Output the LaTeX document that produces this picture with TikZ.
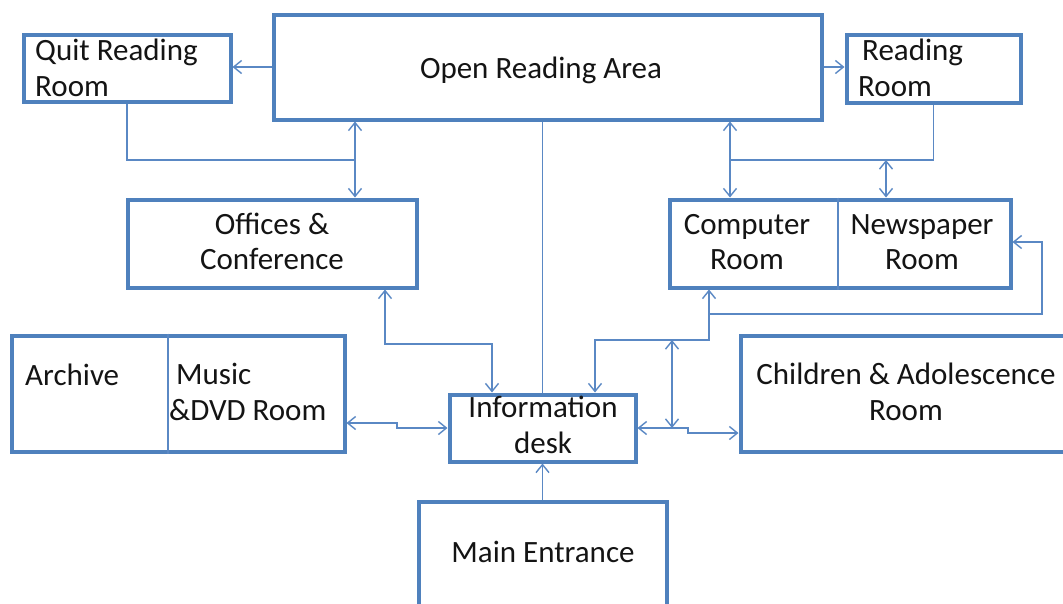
\documentclass[tikz,border=0pt]{standalone}
\usepackage{fontspec}
\setmainfont{Carlito}
\usetikzlibrary{arrows.meta}
\definecolor{boxblue}{HTML}{4F81BD}
\definecolor{linkblue}{HTML}{5A88C4}
\definecolor{ink}{HTML}{141414}
\begin{document}
\begin{tikzpicture}[x=1pt,y=-1pt,
  >={Straight Barb[length=8pt,width=13pt]},
  room/.style={draw=boxblue, line width=4pt, fill=white, inner sep=0pt},
  roomtext/.style={text=ink, inner sep=0pt, font=\fontsize{31}{35.5}\selectfont},
  link/.style={draw=linkblue, line width=1.4pt}]
\useasboundingbox (0,0) rectangle (1063,603);
\clip (0,0) rectangle (1063,603);
\fill[white] (0,0) rectangle (1063,603);

% rooms
\node[room, minimum width=207pt, minimum height=67pt]  (quit)    at (127,68) {};
\node[room, minimum width=548pt, minimum height=105pt] (open)    at (547.5,67) {};
\node[room, minimum width=174pt, minimum height=68pt]  (reading) at (933.5,68.5) {};
\node[room, minimum width=289pt, minimum height=88pt]  (offices) at (272,243.5) {};
\node[room, minimum width=341pt, minimum height=88pt]  (comp)    at (840,243.5) {};
\node[room, minimum width=333pt, minimum height=116pt] (arch)    at (178,393.5) {};
\node[room, minimum width=186pt, minimum height=67pt]  (info)    at (542.5,428) {};
\node[room, minimum width=330pt, minimum height=116pt] (child)   at (905.5,393.5) {};
\node[room, minimum width=248pt, minimum height=112pt] (main)    at (542.5,557.5) {};

% partitions inside the shared rooms
\coordinate (compdiv) at (838,0);
\coordinate (archdiv) at (168,0);
\draw[link] (comp.north -| compdiv) -- (comp.south -| compdiv);
\draw[link] (arch.north -| archdiv) -- (arch.south -| archdiv);

% junction points of the corridors
\coordinate (jl) at (355,160);
\coordinate (jr) at (730,160);
\coordinate (jn) at (886,160);
\coordinate (oc) at (385,344);
\coordinate (od) at (492,344);
\coordinate (cb) at (709,340);
\coordinate (cd) at (595,340);
\coordinate (cr) at (709,314);
\coordinate (ce) at (1042,242);
\coordinate (vx) at (672,340);
\coordinate (ms1) at (397,423);
\coordinate (ms2) at (397,428);
\coordinate (cs1) at (688,428);
\coordinate (cs2) at (688,433);

% connections
\draw[link,->] (open.west) -- (open.west -| quit.east);
\draw[link,->] (open.east) -- (open.east -| reading.west);
\draw[link] (quit.south) |- (jl);
\draw[link,<->] (open.south -| jl) -- (offices.north -| jl);
\draw[link] (reading.south) |- (jr);
\draw[link,<->] (open.south -| jr) -- (comp.north -| jr);
\draw[link,<->] (jn) -- (comp.north -| jn);
\draw[link] (open.south -| info.north) -- (info.north);
\draw[link,<->] (offices.south -| oc) -- (oc) -- (od) -- (info.north -| od);
\draw[link,<->] (comp.south -| cb) -- (cb) -- (cd) -- (info.north -| cd);
\draw[link,->] (cr) -| (ce) -- (comp.east |- ce);
\draw[link,<->] (vx) -- (vx |- info.east);
\draw[link,<->] (info.east) -- (cs1) -- (cs2) -- (child.west |- cs2);
\draw[link,<->] (arch.east |- ms1) -- (ms1) -- (ms2) -- (info.west |- ms2);
\draw[link,->] (main.north) -- (info.south);

% room names (two-line names are placed by the baseline of their last line)
\node[roomtext, anchor=base west, align=left] (quitT) at (35,96) {Quit Reading\\Room};
\node[roomtext, anchor=base] (openT) at (541,78) {Open Reading Area};
\node[roomtext, anchor=base west, align=left] (readT) at (858,96) {\hspace{4pt}Reading\\Room};
\node[roomtext, anchor=base, align=center] (offT) at (272,269.5) {Offices \&\\Conference};
\node[roomtext, anchor=base, align=center] (compT) at (747,269.5) {Computer\\Room};
\node[roomtext, anchor=base, align=center] (newsT) at (922,269.5) {Newspaper\\Room};
\node[roomtext, anchor=base west] (archT) at (25,385) {Archive};
\node[roomtext, anchor=base west, align=left] (musicT) at (169,420) {\hspace{7pt}Music\\\&DVD Room};
\node[roomtext, anchor=base, align=center] (infoT) at (543,453) {Information\\desk};
\node[roomtext, anchor=base, align=center] (childT) at (906,420) {Children \& Adolescence\\Room};
\node[roomtext, anchor=base] (mainT) at (543,562) {Main Entrance};
\end{tikzpicture}
\end{document}
